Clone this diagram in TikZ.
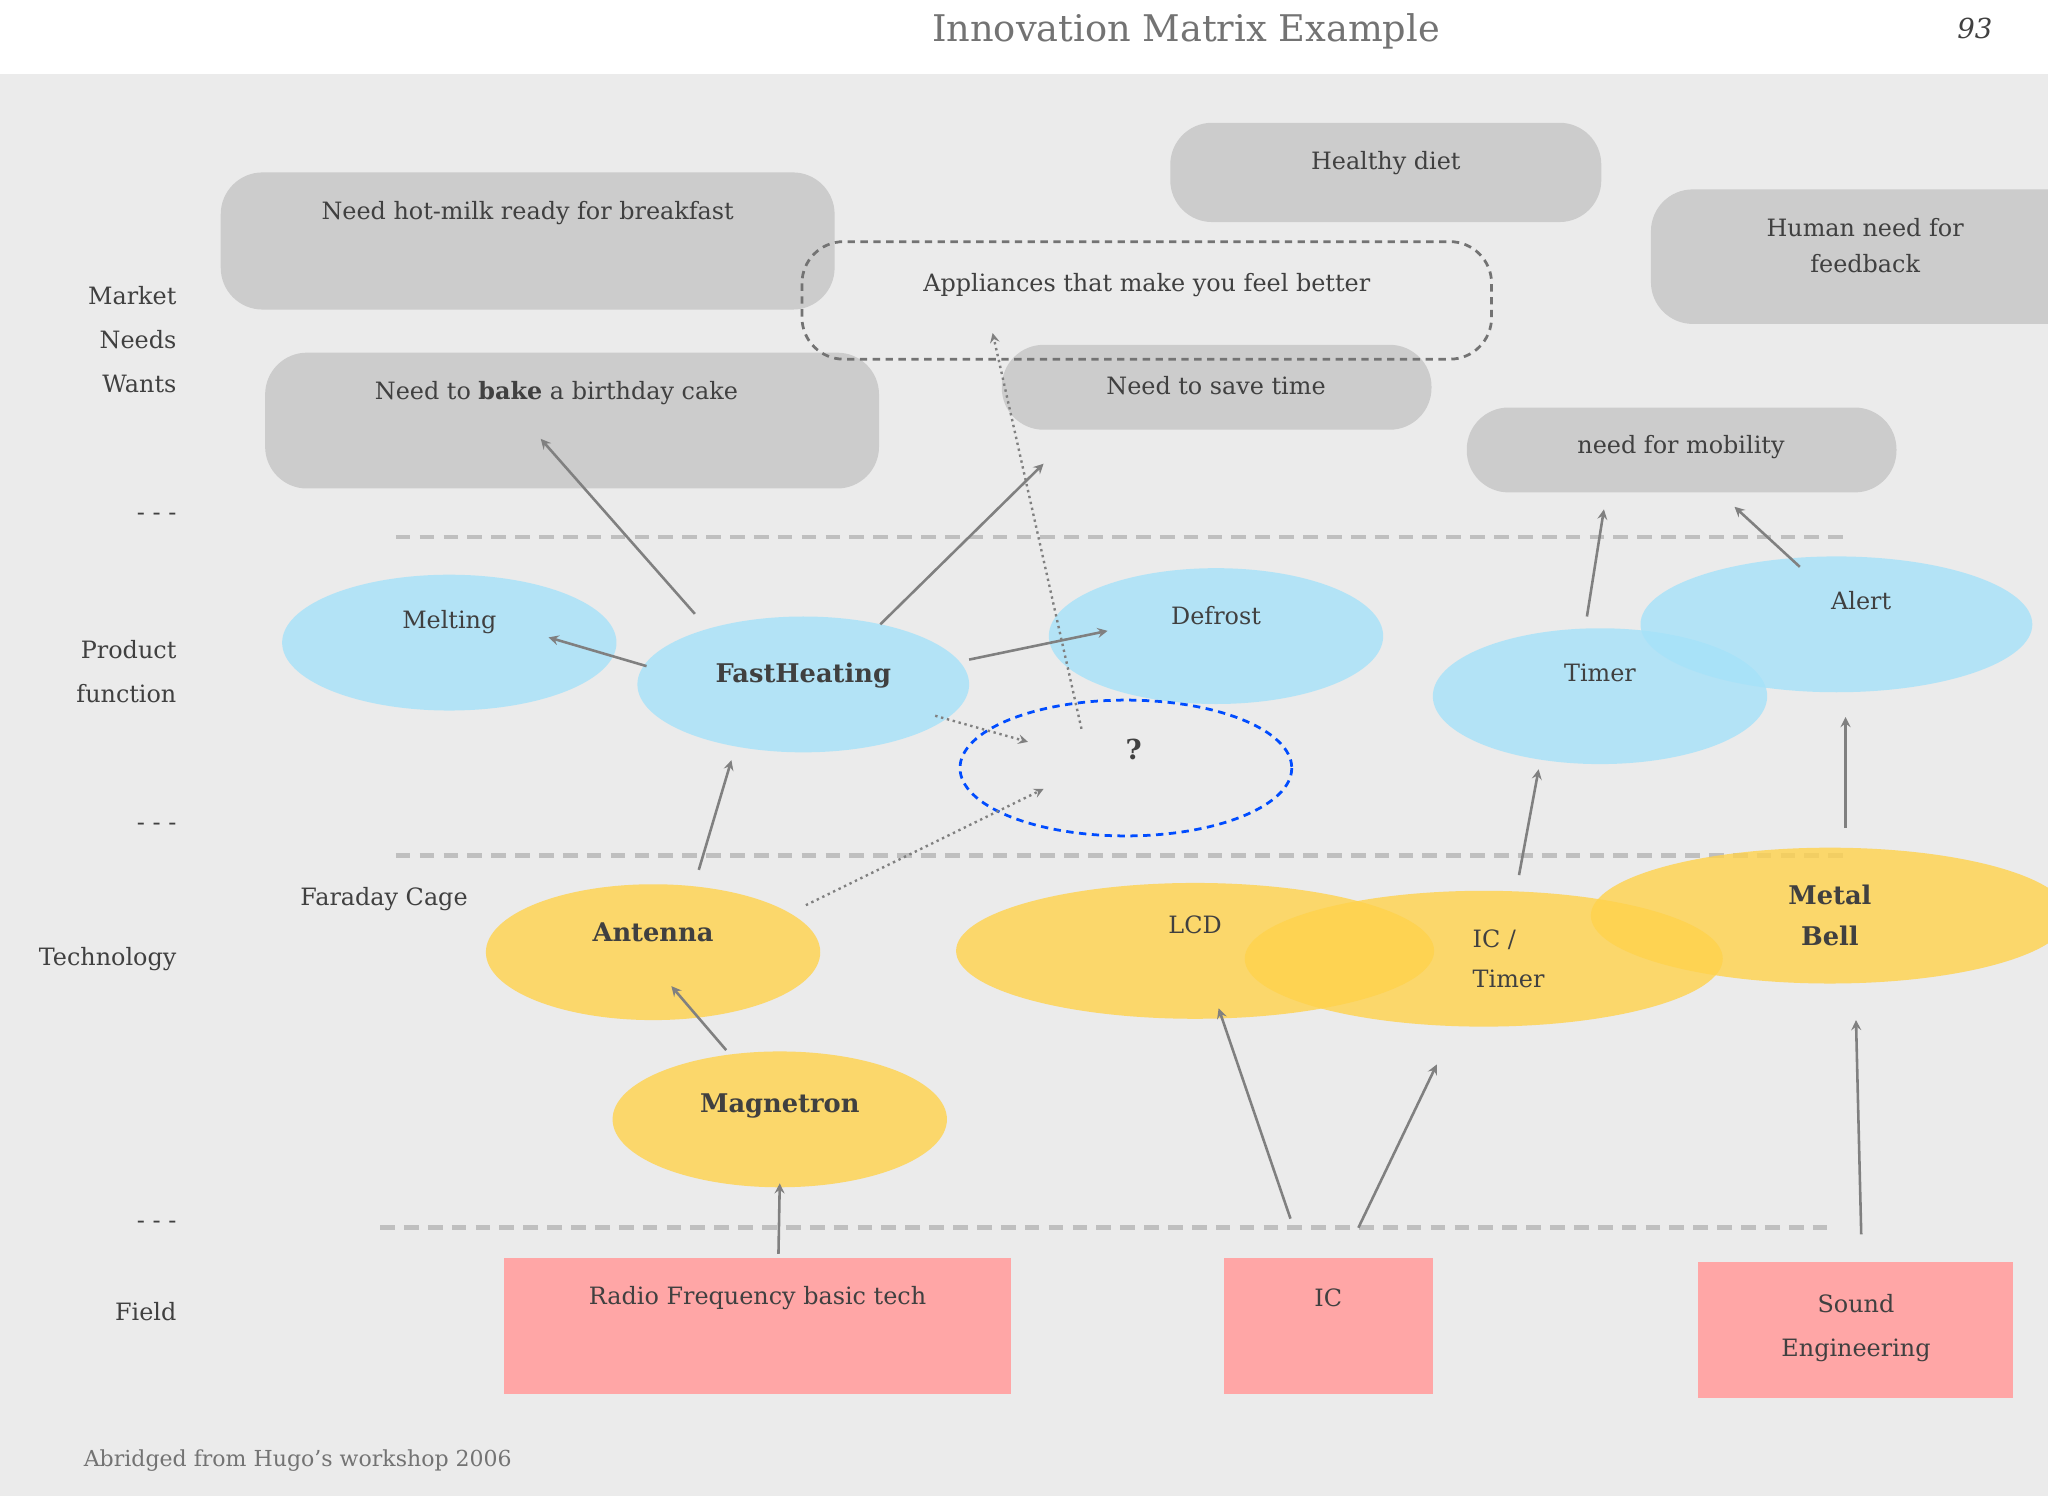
\documentclass[tikz,border=0pt]{standalone}
\usepackage{fontspec}
\setmainfont{DejaVu Serif}
\begin{document}
\begin{tikzpicture}[x=0.025cm,y=-0.025cm,
 txt/.style={text=black!75,font=\fontsize{13}{16}\selectfont},
 need/.style={fill=black!20,draw=none,rounded corners=0.8cm},
 blu/.style={fill=cyan!35!white,fill opacity=0.8,draw=none},
 org/.style={fill=orange!50!yellow!70!white,fill opacity=0.8,draw=none},
 pink/.style={fill=red!35!white},
 arr/.style={draw=black!50,line width=1.4pt,-stealth},
 dot/.style={draw=black!50,line width=1.3pt,dotted,-stealth},
 sep/.style={draw=black!25,line width=2.5pt,dash pattern=on 8pt off 5pt}]
\useasboundingbox (0,0) rectangle (1568,1145);
\fill[white] (0,0) rectangle (1568,57);
\fill[black!8] (0,57) rectangle (1568,1145);
\node[text=black!55,font=\fontsize{20}{24}\selectfont] (title) at (908,24) {Innovation Matrix Example};
\node[text=black!75,font=\fontsize{15}{18}\selectfont\itshape] (pg) at (1512,22) {93};
% left labels
\begin{scope}[every node/.style={txt,anchor=east}]
\node (l1) at (140,226) {Market};
\node (l2) at (140,260) {Needs};
\node (l3) at (140,294) {Wants};
\node (d1) at (140,396) {- - -};
\node (l4) at (140,497) {Product};
\node (l5) at (140,531) {function};
\node (d2) at (140,633) {- - -};
\node (l6) at (140,734) {Technology};
\node (d3) at (140,938) {- - -};
\node (l7) at (140,1004) {Field};
\end{scope}
% separators
\draw[sep] (303,411) -- (1415,411);
\draw[sep] (303,655) -- (1415,655);
\draw[sep] (291,940) -- (1405,940);
% needs
\fill[need] (169,132) rectangle (639,237);
\node[txt] (n1) at (404,163) {Need hot-milk ready for breakfast};
\fill[need] (203,270) rectangle (673,374);
\node[txt] (n2) at (426,301) {Need to \textbf{bake} a birthday cake};
\fill[need] (896,94) rectangle (1226,170);
\node[txt] (n3) at (1061,125) {Healthy diet};
\fill[need] (767,264) rectangle (1096,329);
\node[txt] (n4) at (931,295) {Need to save time};
\fill[need] (1264,145) rectangle (1600,248);
\node[txt,align=center] (n5) at (1428,188) {Human need for\\[4pt]feedback};
\fill[need] (1123,312) rectangle (1452,377);
\node[txt] (n6) at (1287,342) {need for mobility};
\draw[black!55,line width=1.5pt,dash pattern=on 4pt off 3pt,rounded corners=0.8cm] (614,185) rectangle (1142,275);
\node[txt] (n7) at (878,218) {Appliances that make you feel better};
% product functions
\fill[blu] (344,492) ellipse [x radius=128,y radius=52];
\node[txt] (melt) at (344,476) {Melting};
\fill[blu] (615,524) ellipse [x radius=127,y radius=52];
\node[txt,font=\fontsize{14}{16}\selectfont\bfseries] (fast) at (615,517) {FastHeating};
\fill[blu] (931,487) ellipse [x radius=128,y radius=52];
\node[txt] (defr) at (931,471) {Defrost};
\fill[blu] (1225,533) ellipse [x radius=128,y radius=52];
\node[txt] (timer) at (1225,515) {Timer};
\fill[blu] (1406,478) ellipse [x radius=150,y radius=52];
\node[txt] (alert) at (1425,460) {Alert};
\draw[blue!70!cyan,line width=1.5pt,dash pattern=on 4pt off 3pt] (862,588) ellipse [x radius=127,y radius=52];
\node[txt,font=\fontsize{15}{18}\selectfont\bfseries] (q) at (868,574) {?};
% technology
\fill[org] (500,729) ellipse [x radius=128,y radius=52];
\node[txt,font=\fontsize{14}{16}\selectfont\bfseries] (ant) at (500,714) {Antenna};
\fill[org] (597,857) ellipse [x radius=128,y radius=52];
\node[txt,font=\fontsize{14}{16}\selectfont\bfseries] (mag) at (597,847) {Magnetron};
\fill[org] (915,728) ellipse [x radius=183,y radius=52];
\node[txt] (lcd) at (915,708) {LCD};
\fill[org] (1136,734) ellipse [x radius=183,y radius=52];
\node[txt,align=left] (ict) at (1155,734) {IC /\\[6pt]Timer};
\fill[org] (1401,701) ellipse [x radius=183,y radius=52];
\node[txt,font=\fontsize{14}{16}\selectfont\bfseries,align=center] (bell) at (1401,701) {Metal\\[6pt]Bell};
\node[txt] (far) at (294,688) {Faraday Cage};
% fields
\fill[pink] (386,963) rectangle (774,1067);
\node[txt] (f1) at (580,994) {Radio Frequency basic tech};
\fill[pink] (937,963) rectangle (1097,1067);
\node[txt] (f2) at (1017,994) {IC};
\fill[pink] (1300,966) rectangle (1541,1070);
\node[txt,align=center] (f3) at (1421,1017) {Sound\\[8pt]Engineering};
% arrows
\draw[arr] (596,960) -- (597,906);
\draw[arr] (556,804) -- (514,755);
\draw[arr] (535,666) -- (560,582);
\draw[arr] (532,470) -- (414,336);
\draw[arr] (495,510) -- (420,488);
\draw[arr] (674,478) -- (799,355);
\draw[arr] (742,505) -- (848,483);
\draw[dot] (716,548) -- (787,568);
\draw[dot] (617,693) -- (799,604);
\draw[dot] (828,558) -- (760,255);
\draw[arr] (988,933) -- (933,772);
\draw[arr] (1040,940) -- (1100,815);
\draw[arr] (1163,670) -- (1178,589);
\draw[arr] (1215,472) -- (1228,390);
\draw[arr] (1413,634) -- (1413,549);
\draw[arr] (1378,434) -- (1328,388);
\draw[arr] (1425,945) -- (1421,781);
\node[text=black!55,font=\fontsize{12}{14}\selectfont] (foot) at (228,1118) {Abridged from Hugo’s workshop 2006};
\end{tikzpicture}
\end{document}
